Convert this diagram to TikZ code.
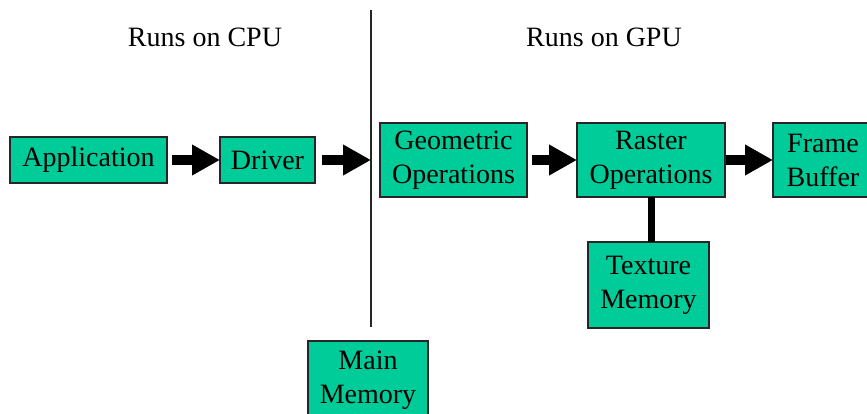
\documentclass[tikz,border=0pt]{standalone}
\usepackage{fontspec}
\setmainfont{Liberation Serif}
\usetikzlibrary{arrows.meta}
\definecolor{boxgreen}{RGB}{0,204,153}
\begin{document}
\begin{tikzpicture}[x=1pt,y=-1pt,
  blk/.style={draw=black!85,line width=1.3pt,fill=boxgreen,align=center,
    font=\fontsize{28}{34}\selectfont,inner sep=0pt,outer sep=0pt},
  lbl/.style={font=\fontsize{28}{34}\selectfont,anchor=base,inner sep=0pt},
  bigarrow/.style={line width=10pt,-{Triangle[length=28pt,width=29pt]},shorten <=5pt},
  link/.style={line width=7pt},
  divider/.style={line width=1.3pt,black!85}]
\useasboundingbox (0,0) rectangle (867,414);
\begin{scope}
\clip (0,0) rectangle (867,414);
\node[blk,minimum width=157pt,minimum height=46pt] (app) at (88.5,160) {Application};
\node[blk,minimum width=95pt,minimum height=46pt] (drv) at (267.5,160) {Driver};
\node[blk,minimum width=147pt,minimum height=74pt] (geo) at (453.5,160) {Geometric\\Operations};
\node[blk,minimum width=148pt,minimum height=74pt] (ras) at (651,160) {Raster\\Operations};
\node[blk,minimum width=100pt,minimum height=74pt] (fb) at (823,160) {Frame\\Buffer};
\node[blk,minimum width=121pt,minimum height=86pt] (tex) at (648.5,285) {Texture\\Memory};
\node[blk,minimum width=120pt,minimum height=78pt] (mm) at (368,380) {Main\\Memory};
\end{scope}
\node[lbl] (cpu) at (205,47) {Runs on CPU};
\node[lbl] (gpu) at (604,47) {Runs on GPU};
\coordinate (dtop) at (371,10);
\coordinate (dbot) at (371,327);
\draw[divider] (dtop) -- (dbot);
\draw[bigarrow] (app.east) -- (drv.west);
\draw[bigarrow,shorten <=7pt] (drv.east) -- (drv.east -| dtop);
\draw[bigarrow] (geo.east) -- (ras.west);
\draw[bigarrow,shorten <=1pt] (ras.east) -- (fb.west);
\draw[link] (ras.south) -- (ras.south |- tex.north);
\end{tikzpicture}
\end{document}
